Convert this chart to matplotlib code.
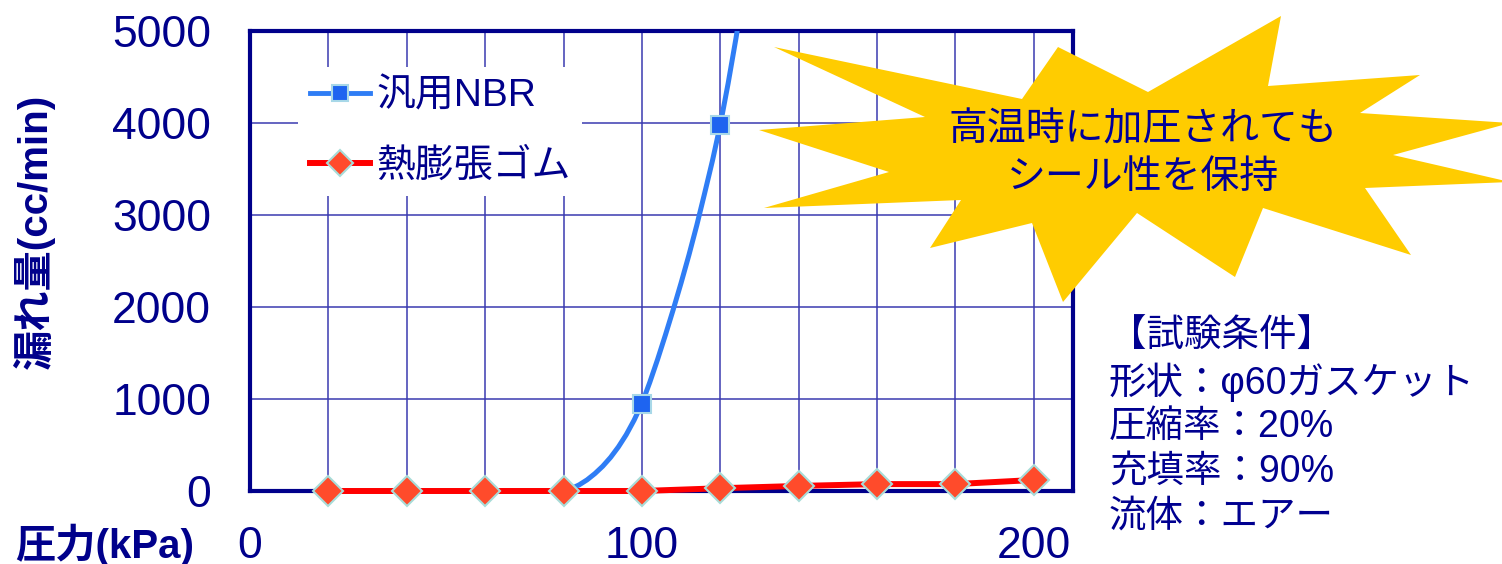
import matplotlib
matplotlib.use("Agg")
import matplotlib.pyplot as plt
from matplotlib.lines import Line2D
from matplotlib.patches import Polygon

# data
pressure = [20, 40, 60, 80, 100, 120, 140, 160, 180, 200]
thermal_rubber = [0, 0, 0, 0, 0, 30, 55, 75, 75, 120]

nbr_x = [100, 120]
nbr_y = [950, 3980]
# smooth NBR curve as traced on the picture
nbr_curve_x = [80, 82, 84, 86, 88, 90, 92, 94, 96, 98, 100, 102, 104, 106, 108, 110,
               112, 114, 116, 118, 120, 122, 124, 126]
nbr_curve_y = [0, 26, 67, 121, 189, 269, 365, 479, 612, 769, 950, 1180, 1430, 1696, 1973, 2262,
               2565, 2888, 3235, 3590, 3980, 4430, 4920, 5450]

labels = ["汎用NBR", "熱膨張ゴム"]
x_ticks = [0, 100, 200]
y_ticks = [0, 1000, 2000, 3000, 4000, 5000]

callout = ["高温時に加圧されても", "シール性を保持"]
conditions = ["【試験条件】", "形状：φ60ガスケット", "圧縮率：20%", "充填率：90%", "流体：エアー"]

navy = "#00008b"
W, H = 1502, 564
fams = ["Liberation Sans", "Noto Sans CJK JP", "DejaVu Sans"]
plt.rcParams["font.family"] = fams

fig = plt.figure(figsize=(W / 100, H / 100), dpi=100)
ax = fig.add_axes([250 / W, (H - 491) / H, (1073 - 250) / W, (491 - 31) / H])

ax.plot(nbr_curve_x, nbr_curve_y, color="#2f7df5", lw=3.6, zorder=3, solid_capstyle="round")
ax.plot(nbr_x, nbr_y, ls="none", marker="s", ms=13, mfc="#1e64f0", mec="#a8d8e8", mew=1.5,
        zorder=3.5, clip_on=False)
ax.plot(pressure, thermal_rubber, color="#ff0000", lw=4.3, marker="D", ms=15, mfc="#ff4b2b",
        mec="#a8dcd8", mew=1.5, zorder=4, clip_on=False)

ax.set_xlim(0, 210)
ax.set_ylim(0, 5000)
ax.set_xticks(x_ticks)
ax.set_xticks(range(0, 201, 20), minor=True)
ax.set_yticks(y_ticks)
ax.grid(True, which="both", axis="x", color="#3a3ab0", lw=1.1)
ax.grid(True, which="major", axis="y", color="#3a3ab0", lw=1.1)
ax.tick_params(which="both", length=0)
ax.tick_params(axis="y", labelsize=32, labelcolor=navy, pad=28)
ax.tick_params(axis="x", labelsize=32, labelcolor=navy, pad=25)
for s in ax.spines.values():
    s.set_color(navy)
    s.set_linewidth(3)

handles = [
    Line2D([], [], color="#2f7df5", lw=3.5, marker="s", ms=12, mfc="#1e64f0", mec="#a8d8e8", mew=1.5),
    Line2D([], [], color="#ff0000", lw=4.3, marker="D", ms=13, mfc="#ff4b2b", mec="#a8dcd8", mew=1.5),
]
leg = ax.legend(handles, labels, loc="upper left", bbox_to_anchor=(0.035, 0.964), fontsize=28,
                frameon=True, framealpha=1, edgecolor="none", facecolor="white",
                handlelength=1.55, handletextpad=0.15, labelspacing=0.85, borderpad=0.3,
                numpoints=1)
for t in leg.get_texts():
    t.set_color(navy)

# star callout
star_px = [(774, 47), (1022, 99), (1058, 47), (1148, 92), (1281, 16), (1268, 86), (1420, 75),
           (1360, 113), (1510, 123), (1393, 155), (1510, 182), (1365, 188), (1411, 255),
           (1263, 208), (1235, 277), (1137, 213), (1063, 302), (1032, 223), (930, 248),
           (961, 200), (764, 208), (889, 172), (759, 130), (925, 117)]
star = Polygon([(x / W, 1 - y / H) for x, y in star_px], closed=True, facecolor="#ffcc00",
               edgecolor="none", transform=fig.transFigure, zorder=5)
fig.patches.append(star)
for i, line in enumerate(callout):
    fig.text(1143 / W, 1 - (130 + 48 * i) / H, line, ha="center", va="center", fontsize=28,
             color="#000099", zorder=6)

for i, line in enumerate(conditions):
    fig.text(1109 / W, 1 - (337 + 45 * i) / H, line, ha="left", va="center", fontsize=27,
             color="#000090")

fig.text(34 / W, 1 - 231 / H, "漏れ量(cc/min)", rotation=90, ha="center", va="center",
         fontsize=29, fontweight="bold", color=navy)
fig.text(15 / W, 1 - 545 / H, "圧力(kPa)", ha="left", va="center", fontsize=29,
         fontweight="bold", color=navy)

fig.savefig("out.png", dpi=100)
